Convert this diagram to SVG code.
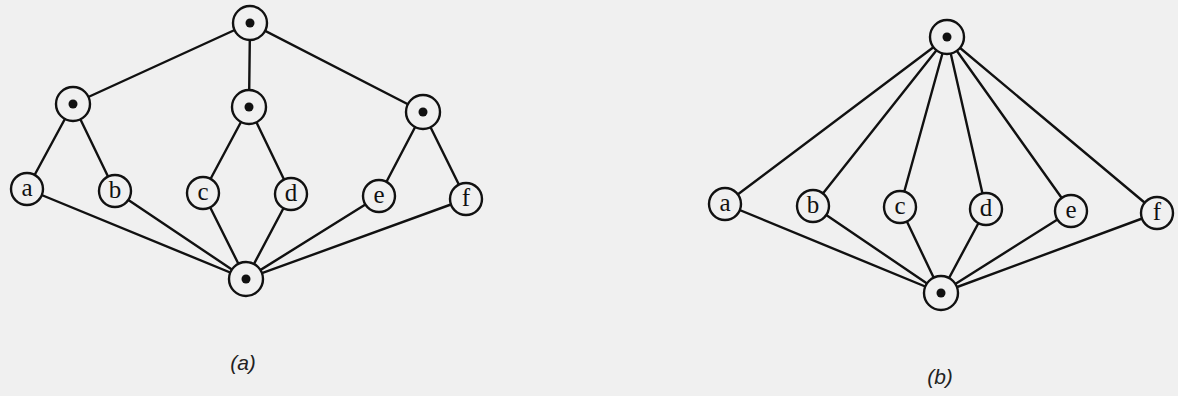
<svg xmlns="http://www.w3.org/2000/svg" width="1178" height="396" viewBox="0 0 1178 396">
<style>
.e{stroke:#111;stroke-width:2.4;fill:none}
.n{fill:#f0f0f0;stroke:#111;stroke-width:2.4}
.d{fill:#111}
.t{font-family:"Liberation Serif",serif;font-size:25px;fill:#111;text-anchor:middle}
.cap{font-family:"Liberation Sans",sans-serif;font-style:italic;font-size:21px;fill:#222;text-anchor:middle}
</style>
<rect width="1178" height="396" fill="#f0f0f0"/>
<g id="connectors">
<path class="e" d="M250 23L73 104M250 23L249 107M250 23L423 112M73 104L27 189M73 104L115 191M249 107L203 193M249 107L291 194M423 112L379 196M423 112L466 199M246 279L27 189M246 279L115 191M246 279L203 193M246 279L291 194M246 279L379 196M246 279L466 199"/>
<path class="e" d="M947 37L725 204M947 37L813 206M947 37L900 207M947 37L986 209M947 37L1071 211M947 37L1157 213M941 293L725 204M941 293L813 206M941 293L900 207M941 293L986 209M941 293L1071 211M941 293L1157 213"/>
</g>
<g id="a-top"><circle class="n" cx="250" cy="23" r="17"/><circle class="d" cx="250" cy="23" r="4.5"/></g>
<g id="a-m1"><circle class="n" cx="73" cy="104" r="17"/><circle class="d" cx="73" cy="104" r="4.5"/></g>
<g id="a-m2"><circle class="n" cx="249" cy="107" r="17"/><circle class="d" cx="249" cy="107" r="4.5"/></g>
<g id="a-m3"><circle class="n" cx="423" cy="112" r="17"/><circle class="d" cx="423" cy="112" r="4.5"/></g>
<g id="a-bot"><circle class="n" cx="246" cy="279" r="17"/><circle class="d" cx="246" cy="279" r="4.5"/></g>
<g id="a-a"><circle class="n" cx="27" cy="189" r="16"/><text class="t" x="27" y="196">a</text></g>
<g id="a-b"><circle class="n" cx="115" cy="191" r="16"/><text class="t" x="115" y="198">b</text></g>
<g id="a-c"><circle class="n" cx="203" cy="193" r="16"/><text class="t" x="203" y="200">c</text></g>
<g id="a-d"><circle class="n" cx="291" cy="194" r="16"/><text class="t" x="291" y="201">d</text></g>
<g id="a-e"><circle class="n" cx="379" cy="196" r="16"/><text class="t" x="379" y="203">e</text></g>
<g id="a-f"><circle class="n" cx="466" cy="199" r="16"/><text class="t" x="466" y="206">f</text></g>
<g id="b-top"><circle class="n" cx="947" cy="37" r="17"/><circle class="d" cx="947" cy="37" r="4.5"/></g>
<g id="b-bot"><circle class="n" cx="941" cy="293" r="17"/><circle class="d" cx="941" cy="293" r="4.5"/></g>
<g id="b-a"><circle class="n" cx="725" cy="204" r="16"/><text class="t" x="725" y="211">a</text></g>
<g id="b-b"><circle class="n" cx="813" cy="206" r="16"/><text class="t" x="813" y="213">b</text></g>
<g id="b-c"><circle class="n" cx="900" cy="207" r="16"/><text class="t" x="900" y="214">c</text></g>
<g id="b-d"><circle class="n" cx="986" cy="209" r="16"/><text class="t" x="986" y="216">d</text></g>
<g id="b-e"><circle class="n" cx="1071" cy="211" r="16"/><text class="t" x="1071" y="218">e</text></g>
<g id="b-f"><circle class="n" cx="1157" cy="213" r="16"/><text class="t" x="1157" y="220">f</text></g>
<text class="cap" x="243" y="370">(a)</text>
<text class="cap" x="940" y="384">(b)</text>
</svg>
